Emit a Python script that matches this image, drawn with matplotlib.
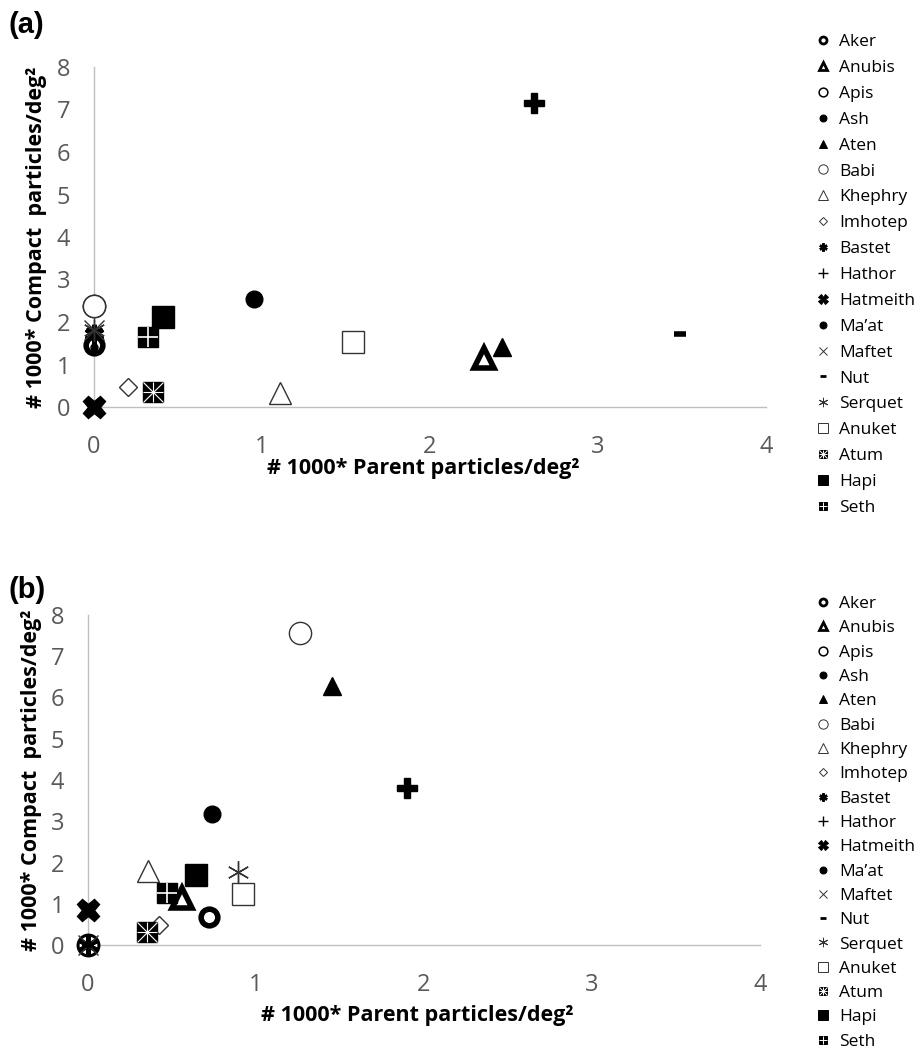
import matplotlib
matplotlib.use("Agg")
import matplotlib.pyplot as plt
from matplotlib.lines import Line2D

plt.rcParams['font.family'] = ['Open Sans', 'DejaVu Sans']

names = ["Aker", "Anubis", "Apis", "Ash", "Aten", "Babi", "Khephry", "Imhotep",
         "Bastet", "Hathor", "Hatmeith", "Ma\u2019at", "Maftet", "Nut", "Serquet",
         "Anuket", "Atum", "Hapi", "Seth"]

# panel (a)
parent_a = [0.00, 2.32, 0.00, 0.95, 2.43, 0.00, 1.11, 0.20, 0.00, 2.62,
            0.00, 0.00, 0.00, 3.49, 0.00, 1.54, 0.35, 0.41, 0.32]
compact_a = [1.45, 1.15, 2.38, 2.54, 1.41, 2.38, 0.33, 0.48, 1.72, 7.15,
             0.00, 1.42, 1.82, 1.72, 1.82, 1.53, 0.36, 2.12, 1.64]

# panel (b)
parent_b = [0.72, 0.56, 0.00, 0.74, 1.45, 1.26, 0.36, 0.42, 0.00, 1.90,
            0.00, 0.00, 0.00, 0.00, 0.89, 0.92, 0.35, 0.64, 0.47]
compact_b = [0.68, 1.14, 0.00, 3.18, 6.28, 7.56, 1.80, 0.48, 0.00, 3.81,
             0.85, 0.00, 0.00, 0.00, 1.77, 1.24, 0.32, 1.70, 1.26]

x_ticks = [0, 1, 2, 3, 4]
y_ticks = [0, 1, 2, 3, 4, 5, 6, 7, 8]

ASTER = (6, 2, 0)
# layers per series: (marker, face, edge, ms, mew)
styles = {
    "Aker":     [("o", "white", "black", 12, 4.0)],
    "Anubis":   [("^", "white", "black", 15, 4.0)],
    "Apis":     [("o", "white", "black", 15, 2.2)],
    "Ash":      [("o", "black", "black", 12, 1.0)],
    "Aten":     [("^", "black", "black", 13, 1.0)],
    "Babi":     [("o", "white", "#333333", 16, 1.0)],
    "Khephry":  [("^", "white", "#333333", 16, 1.0)],
    "Imhotep":  [("D", "white", "#333333", 9, 1.0)],
    "Bastet":   [(ASTER, "black", "black", 14, 3.5)],
    "Hathor":   [("P", "black", "black", 15, 1.0)],
    "Hatmeith": [("X", "black", "black", 16, 1.0)],
    "Ma\u2019at": [("o", "black", "black", 5, 1.0)],
    "Maftet":   [("x", "black", "#333333", 14, 1.0)],
    "Nut":      [("_", "black", "black", 9, 4.0)],
    "Serquet":  [(ASTER, "black", "#333333", 16, 1.0)],
    "Anuket":   [("s", "white", "#333333", 16, 1.0)],
    "Atum":     [("s", "black", "black", 15, 1.0),
                 ("+", "white", "white", 15, 0.8),
                 ("x", "white", "white", 15, 0.8)],
    "Hapi":     [("s", "black", "black", 16, 1.0)],
    "Seth":     [("s", "black", "black", 15, 1.0),
                 ("+", "white", "white", 15, 1.2)],
}
# the legend shows a few symbols differently from the plot
legend_styles = {
    "Hathor": [("+", "black", "black", 16, 2.0)],
    "Ma\u2019at": [("o", "black", "black", 12, 1.0)],
}


def legend_handles():
    handles = []
    for n in names:
        parts = []
        for mk, fc, ec, ms, mew in legend_styles.get(n, styles[n]):
            parts.append(Line2D([], [], ls="none", marker=mk, mfc=fc, mec=ec,
                                ms=ms * 0.42, mew=max(mew * 0.5, 0.7)))
        handles.append(tuple(parts) if len(parts) > 1 else parts[0])
    return handles


def draw_panel(ax, xs, ys):
    for i, n in enumerate(names):
        for mk, fc, ec, ms, mew in styles[n]:
            ax.plot([xs[i]], [ys[i]], ls="none", marker=mk, mfc=fc, mec=ec,
                    ms=ms, mew=mew, clip_on=False, zorder=3 + i * 0.1)
    ax.set_xlim(0, 4)
    ax.set_ylim(0, 8)
    ax.set_xticks(x_ticks)
    ax.set_yticks(y_ticks)
    for s in ["top", "right"]:
        ax.spines[s].set_visible(False)
    for s in ["left", "bottom"]:
        ax.spines[s].set_color("#BFBFBF")
        ax.spines[s].set_linewidth(1.0)
    ax.tick_params(length=0, labelsize=17, labelcolor="#595959")
    ax.tick_params(axis="x", pad=20)
    ax.tick_params(axis="y", pad=17)
    ax.set_xlabel("# 1000* Parent particles/deg\u00b2", fontsize=15.5,
                  fontweight="bold")
    ax.set_ylabel("# 1000* Compact  particles/deg\u00b2", fontsize=15.5,
                  fontweight="bold")


fig = plt.figure(figsize=(9.23, 10.51), dpi=100)
ax_a = fig.add_axes([94 / 923, 1 - 407 / 1051, 672 / 923, 340 / 1051])
ax_b = fig.add_axes([88 / 923, 1 - 945 / 1051, 672 / 923, 330 / 1051])

draw_panel(ax_a, parent_a, compact_a)
draw_panel(ax_b, parent_b, compact_b)
ax_a.xaxis.set_label_coords(0.49, -0.15)
ax_a.yaxis.set_label_coords(-0.07, 0.5)
ax_b.xaxis.set_label_coords(0.49, -0.182)
ax_b.yaxis.set_label_coords(-0.068, 0.5)

fig.text(8 / 923, 1 - 25 / 1051, "(a)", fontsize=21, fontweight="bold",
         family="Liberation Sans", va="center")
fig.text(8 / 923, 1 - 590 / 1051, "(b)", fontsize=21, fontweight="bold",
         family="Liberation Sans", va="center")

for top, spacing in [(1 - 34 / 1051, 0.56), (1 - 596 / 1051, 0.47)]:
    fig.legend(legend_handles(), names, loc="upper left",
               bbox_to_anchor=(814 / 923, top), frameon=False, fontsize=12.5,
               handlelength=1.0, handletextpad=0.45, labelspacing=spacing,
               borderpad=0, borderaxespad=0)

fig.savefig("out.png", dpi=100)
